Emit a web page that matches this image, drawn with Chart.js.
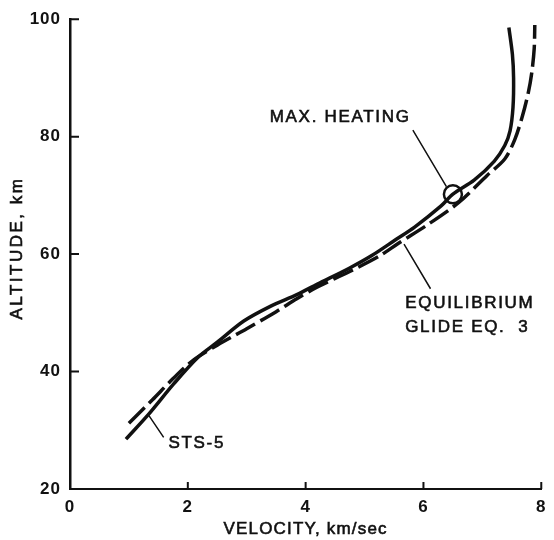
<!DOCTYPE html>
<html>
<head>
<meta charset="utf-8">
<script src="https://cdn.jsdelivr.net/npm/chart.js@4/dist/chart.umd.min.js"></script>
<style>
html, body { margin: 0; padding: 0; background: #fff; }
#wrap { width: 554px; height: 540px; position: relative; }
</style>
</head>
<body>
<div id="wrap"><canvas id="chart"></canvas></div>
<script>
// STS-5 flight (solid)
const stsVelocity = [0.95, 1.34, 1.76, 2.17, 2.5, 2.95, 3.4, 3.85, 4.2, 4.74, 5.13, 5.52, 5.85, 6.3, 6.5, 6.86, 7.2, 7.38, 7.47, 7.52, 7.53, 7.51, 7.45]
const stsAltitude = [28.5, 32.8, 37.9, 42.4, 45.0, 48.6, 51.1, 53.1, 54.9, 57.6, 59.8, 62.4, 64.6, 68.2, 70.2, 72.6, 75.8, 78.5, 81.0, 85.0, 90.0, 94.0, 98.6]

// equilibrium glide, eq. 3 (dashed)
const glideVelocity = [1.0, 1.4, 1.75, 2.1, 2.5, 3.0, 3.5, 3.85, 4.2, 4.74, 5.24, 5.57, 6.1, 6.6, 7.08, 7.38, 7.55, 7.68, 7.78, 7.84, 7.88, 7.89]
const glideAltitude = [31.2, 35.2, 38.8, 42.0, 44.5, 47.3, 50.2, 52.4, 54.4, 57.0, 59.6, 61.8, 65.2, 68.8, 73.4, 76.2, 79.5, 83.5, 87.5, 91.0, 95.0, 99.0]

const maxHeatingPoint = [6.5, 70.2]

const xTicks = [0, 2, 4, 6, 8]
const yTicks = [20, 40, 60, 80, 100]

const xTitle = "VELOCITY, km/sec"
const yTitle = "ALTITUDE, km"

// callouts: text lines and leader lines, in data units
const notes = [
    { lines: ["MAX. HEATING"], at: [3.39, 83.3], leader: [[5.82, 81.1], [6.39, 71.5]] },
    { lines: ["EQUILIBRIUM", "GLIDE EQ.  3"], at: [5.69, 51.6], leader: [[6.12, 54.1], [5.67, 61.7]] },
    { lines: ["STS-5"], at: [1.67, 27.8], leader: [[1.59, 28.8], [1.34, 32.5]] }
]

const ink = "#111"
const textFont = '17px "Liberation Sans", Arial, sans-serif'
Chart.defaults.font.family = '"Liberation Sans", Arial, sans-serif'
Chart.defaults.color = ink

const toPoints = (xs, ys) => xs.map((x, i) => ({ x, y: ys[i] }))

// scanned lettering is heavier than plain regular weight
function heavyText(ctx, t, x, y) {
    ctx.fillText(t, x, y)
    ctx.strokeText(t, x, y)
}

const callouts = {
    id: "callouts",
    beforeDraw(chart) {
        chart.ctx.letterSpacing = "1px"
    },
    afterDatasetsDraw(chart) {
        const { ctx, chartArea, scales: { x, y } } = chart
        ctx.save()
        ctx.strokeStyle = ink
        ctx.lineWidth = 2
        ctx.beginPath()
        xTicks.forEach(v => {
            if (v === xTicks[0]) return
            const px = x.getPixelForValue(v)
            ctx.moveTo(px, chartArea.bottom)
            ctx.lineTo(px, chartArea.bottom - 7)
        })
        yTicks.forEach(v => {
            if (v === yTicks[0]) return
            const py = y.getPixelForValue(v)
            ctx.moveTo(chartArea.left, py)
            ctx.lineTo(chartArea.left + 9, py)
        })
        ctx.stroke()

        ctx.lineWidth = 1.5
        ctx.beginPath()
        notes.forEach(n => {
            ctx.moveTo(x.getPixelForValue(n.leader[0][0]), y.getPixelForValue(n.leader[0][1]))
            ctx.lineTo(x.getPixelForValue(n.leader[1][0]), y.getPixelForValue(n.leader[1][1]))
        })
        ctx.stroke()

        ctx.fillStyle = ink
        ctx.lineWidth = 0.6
        ctx.font = textFont
        ctx.letterSpacing = "1.7px"
        ctx.textBaseline = "middle"
        ctx.textAlign = "left"
        notes.forEach(n => {
            const px = x.getPixelForValue(n.at[0])
            const py = y.getPixelForValue(n.at[1])
            n.lines.forEach((t, i) => heavyText(ctx, t, px, py + i * 24))
        })

        // axis titles
        ctx.letterSpacing = "1.2px"
        ctx.textAlign = "center"
        heavyText(ctx, xTitle, (chartArea.left + chartArea.right) / 2, 529)
        ctx.translate(17, (chartArea.top + chartArea.bottom) / 2 - 6)
        ctx.rotate(-Math.PI / 2)
        ctx.letterSpacing = "2.5px"
        heavyText(ctx, yTitle, 0, 0)
        ctx.restore()
    }
}

new Chart(document.getElementById("chart"), {
    type: "scatter",
    data: {
        datasets: [
            {
                data: toPoints(stsVelocity, stsAltitude),
                showLine: true,
                borderColor: ink,
                borderWidth: 3.5,
                pointRadius: 0,
                tension: 0.3
            },
            {
                data: toPoints(glideVelocity, glideAltitude),
                showLine: true,
                borderColor: ink,
                borderWidth: 3.5,
                borderDash: [22, 6],
                pointRadius: 0,
                tension: 0.3
            },
            {
                data: [{ x: maxHeatingPoint[0], y: maxHeatingPoint[1] }],
                pointRadius: 9,
                pointBorderWidth: 2.5,
                pointBorderColor: ink,
                pointBackgroundColor: "rgba(0,0,0,0)"
            }
        ]
    },
    options: {
        responsive: true,
        maintainAspectRatio: false,
        animation: false,
        layout: { padding: { left: 0, right: 6, top: 15, bottom: 0 } },
        plugins: { legend: { display: false }, tooltip: { enabled: false } },
        scales: {
            x: {
                min: 0, max: 8,
                afterFit: (s) => { s.height = 51 },
                afterBuildTicks: (s) => { s.ticks = xTicks.map(v => ({ value: v })) },
                grid: { display: false, drawTicks: false },
                border: { display: true, color: ink, width: 2 },
                ticks: { padding: 8, font: { size: 17, weight: "bold" }, color: ink }
            },
            y: {
                min: 20, max: 100,
                afterFit: (s) => { s.width = 70 },
                afterBuildTicks: (s) => { s.ticks = yTicks.map(v => ({ value: v })) },
                grid: { display: false, drawTicks: false },
                border: { display: true, color: ink, width: 2.5 },
                ticks: { padding: 9, font: { size: 17, weight: "bold" }, color: ink }
            }
        }
    },
    plugins: [callouts]
})
</script>
</body>
</html>
